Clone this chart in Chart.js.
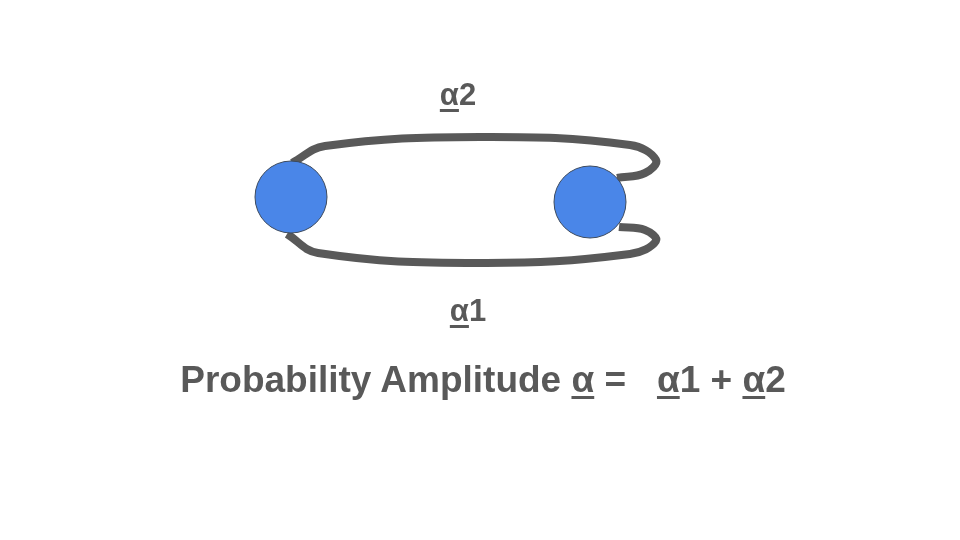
<!DOCTYPE html>
<html>
<head>
<meta charset="utf-8">
<script src="https://cdn.jsdelivr.net/npm/chart.js@4/dist/chart.umd.min.js"></script>
<style>
  body { margin: 0; background: #fff; }
  #wrap { position: relative; width: 960px; height: 540px; }
  canvas { position: absolute; left: 0; top: 0; }
  .lbl { position: absolute; font-family: "Liberation Sans", Arial, sans-serif; font-weight: bold;
         color: #595959; white-space: pre; transform: translate(-50%, -50%); }
  u { text-decoration-thickness: 3px; text-underline-offset: 4px; }
</style>
</head>
<body>
<div id="wrap">
  <canvas id="c" width="960" height="540"></canvas>
  <div class="lbl" style="left:458px;top:95px;font-size:31px"><u>α</u>2</div>
  <div class="lbl" style="left:468px;top:311px;font-size:31px"><u>α</u>1</div>
  <div class="lbl" style="left:483px;top:380px;font-size:37px">Probability Amplitude <u>α</u> =   <u>α</u>1 + <u>α</u>2</div>
</div>
<script>
// diagram coordinates in the 960x540 frame
const particles = [{ x: 291, y: 197 }, { x: 590, y: 202 }];
const upperPath = [
  { x: 292, y: 163 }, { x: 325, y: 146 }, { x: 480, y: 137 }, { x: 630, y: 145 },
  { x: 656, y: 160 }, { x: 645, y: 173 }, { x: 617, y: 178 }
];
const lowerPath = [
  { x: 287, y: 234 }, { x: 318, y: 253 }, { x: 480, y: 263 }, { x: 630, y: 254 },
  { x: 656, y: 241 }, { x: 645, y: 230 }, { x: 619, y: 227 }
];

const pathStyle = {
  showLine: true, borderColor: '#595959', borderWidth: 8, pointRadius: 0,
  tension: 0.4, fill: false
};

new Chart(document.getElementById('c'), {
  type: 'scatter',
  data: {
    datasets: [
      { data: particles, pointRadius: 36, pointHoverRadius: 36, backgroundColor: '#4a86e8',
        borderColor: '#3c4a5e', borderWidth: 1 },
      Object.assign({ data: upperPath }, pathStyle),
      Object.assign({ data: lowerPath }, pathStyle)
    ]
  },
  options: {
    responsive: false, animation: false, events: [],
    layout: { padding: 0, autoPadding: false },
    plugins: { legend: { display: false }, tooltip: { enabled: false } },
    scales: {
      x: { type: 'linear', min: 0, max: 960, display: false },
      y: { type: 'linear', min: 0, max: 540, reverse: true, display: false }
    }
  }
});
</script>
</body>
</html>
